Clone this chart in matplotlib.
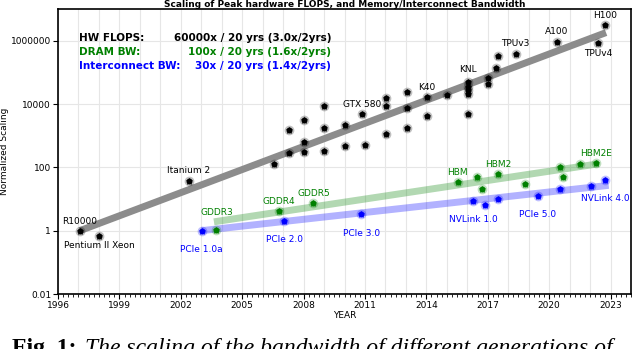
import matplotlib
matplotlib.use("Agg")
import matplotlib.pyplot as plt
from matplotlib.ticker import FixedLocator, FixedFormatter, MultipleLocator
import numpy as np

# ---------------- data ----------------
flops_year = [1997.07, 1998.01, 2002.40, 2006.57, 2007.31, 2007.31, 2008.0, 2008.0, 2008.0,
              2009.0, 2009.0, 2009.0, 2010.01, 2010.01, 2010.86, 2011.02,
              2012.03, 2012.03, 2012.03, 2013.03, 2013.03, 2013.03, 2014.01, 2014.01,
              2015.02, 2016.02, 2016.02, 2016.02, 2016.02, 2016.02, 2017.03, 2017.03,
              2017.39, 2017.49, 2018.36, 2020.36, 2022.39, 2022.75]
flops_value = [1, 0.68, 38, 129, 282, 1540, 295, 640, 3200,
               340, 1780, 8870, 480, 2170, 4700, 500,
               15000, 8900, 1170, 24000, 7450, 1740, 16200, 4270,
               18600, 51000, 34500, 27000, 21000, 5000, 64500, 41700,
               134000, 338000, 380000, 935000, 830000, 3.1e6]

dram_year = [2003.74, 2006.79, 2008.48, 2015.54, 2016.48, 2016.74, 2017.49, 2018.82,
             2020.51, 2020.67, 2021.51, 2022.27]
dram_value = [1.05, 4.3, 7.7, 34, 49, 21, 61, 30, 104, 50, 129, 135]

ic_year = [2003.02, 2007.05, 2010.82, 2016.28, 2016.87, 2017.49, 2019.44, 2020.51, 2022.04, 2022.75]
ic_value = [1.0, 2.07, 3.4, 8.5, 6.3, 10.3, 12.8, 20.4, 26, 40]

# trend lines (start/end)
flops_trend_year = [1997.07, 2022.78]
flops_trend_value = [1.0, 1.8e6]
dram_trend_year = [2003.62, 2022.43]
dram_trend_value = [1.9, 130]
ic_trend_year = [2003.02, 2022.91]
ic_trend_value = [1.0, 27]

# point labels: (name, year, value)
flops_labels = [("R10000", 1997.07, 1), ("Pentium II Xeon", 1998.01, 0.68),
                ("Itanium 2", 2002.40, 38), ("GTX 580", 2010.86, 4700),
                ("K40", 2014.01, 16200), ("KNL", 2016.02, 51000),
                ("TPUv3", 2018.36, 380000), ("A100", 2020.36, 935000),
                ("TPUv4", 2022.39, 830000), ("H100", 2022.75, 3.1e6)]
dram_labels = [("GDDR3", 2003.74, 1.05), ("GDDR4", 2006.79, 4.3), ("GDDR5", 2008.48, 7.7),
               ("HBM", 2015.54, 34), ("HBM2", 2017.49, 61), ("HBM2E", 2022.27, 135)]
ic_labels = [("PCIe 1.0a", 2003.02, 1.0), ("PCIe 2.0", 2007.05, 2.07),
             ("PCIe 3.0", 2010.82, 3.4), ("NVLink 1.0", 2016.28, 8.5),
             ("PCIe 5.0", 2019.44, 12.8), ("NVLink 4.0", 2022.75, 40)]

summary_names = ["HW FLOPS:", "DRAM BW:", "Interconnect BW:"]
summary_rates = ["60000x / 20 yrs (3.0x/2yrs)", "100x / 20 yrs (1.6x/2yrs)", "30x / 20 yrs (1.4x/2yrs)"]

x_ticks = [1996, 1999, 2002, 2005, 2008, 2011, 2014, 2017, 2020, 2023]
y_ticks = [0.01, 1, 100, 10000, 1000000]
y_ticklabels = ["0.01", "1", "100", "10000", "1000000"]

title = "Scaling of Peak hardware FLOPS, and Memory/Interconnect Bandwidth"

# ---------------- style ----------------
BLACK = "#000000"
GREEN = "#008000"
BLUE = "#0000ff"
FS = 6.5

fig = plt.figure(figsize=(6.4, 3.49), dpi=100)
ax = fig.add_axes([58/640, 55/349, 573/640, 285/349])
ax.set_yscale("log")
ax.set_xlim(1996, 2024)
ax.set_ylim(0.01, 1e7)

# grid
for yr in range(1996, 2024):
    ax.axvline(yr, color="#e6e6e6", lw=0.8, zorder=0)
for yv in y_ticks:
    ax.axhline(yv, color="#e6e6e6", lw=0.8, zorder=0)

# trend lines
ax.plot(flops_trend_year, flops_trend_value, color="#8c8c8c", lw=5, solid_capstyle="butt", zorder=2)
ax.plot(dram_trend_year, dram_trend_value, color=GREEN, alpha=0.3, lw=5, solid_capstyle="butt", zorder=2)
ax.plot(ic_trend_year, ic_trend_value, color=BLUE, alpha=0.3, lw=5, solid_capstyle="butt", zorder=2)

def pts(xs, ys, c):
    ax.plot(xs, ys, "o", ms=7, mfc=c, mec="none", alpha=0.25, zorder=3)
    ax.plot(xs, ys, "o", ms=4.3, mfc=c, mec="none", zorder=4)
    ax.plot(xs, ys, "*", ms=5, mfc=c, mec=c, mew=0.4, zorder=4)

pts(flops_year, flops_value, BLACK)
pts(dram_year, dram_value, GREEN)
pts(ic_year, ic_value, BLUE)

def lab(items, c, offsets):
    for (name, x, y), dy in zip(items, offsets):
        ax.annotate(name, (x, y), xytext=(0, dy), textcoords="offset pixels",
                    ha="center", va="center", fontsize=FS, color=c, zorder=5)

lab(flops_labels, BLACK, [9, -10, 10, 10, 10, 12.5, 10, 10, -10.5, 10])
lab(dram_labels, GREEN, [17, 9.5, 9.5, 9.5, 10, 9.5])
lab(ic_labels, BLUE, [-19, -18.5, -20, -18.5, -18.5, -18.5])

# summary text
ys = [0.898, 0.850, 0.801]
cols = [BLACK, GREEN, BLUE]
for n, r, yy, c in zip(summary_names, summary_rates, ys, cols):
    ax.text(21/573, yy, n, transform=ax.transAxes, ha="left", va="center",
            fontsize=7.5, fontweight="bold", color=c)
    ax.text(273/573, yy, r, transform=ax.transAxes, ha="right", va="center",
            fontsize=7.5, fontweight="bold", color=c)

# axes ticks
ax.xaxis.set_major_locator(FixedLocator(x_ticks))
ax.xaxis.set_major_formatter(FixedFormatter([str(t) for t in x_ticks]))
ax.xaxis.set_minor_locator(MultipleLocator(0.25))
ax.yaxis.set_major_locator(FixedLocator(y_ticks))
ax.yaxis.set_major_formatter(FixedFormatter(y_ticklabels))
ax.yaxis.set_minor_locator(FixedLocator([]))
ax.tick_params(axis="both", which="major", labelsize=FS, length=3.5, width=0.8, pad=1.5)
ax.tick_params(axis="x", which="minor", length=2, width=0.6)
for s in ax.spines.values():
    s.set_linewidth(1.2)

ax.set_xlabel("YEAR", fontsize=FS, labelpad=1)
ax.set_ylabel("Normalized Scaling", fontsize=FS, labelpad=1)
fig.text((58 + 573/2)/640, 1 - 4.5/349, title, fontsize=6.5, fontweight="bold",
         ha="center", va="center")

# caption (partially cut off at the bottom)
fig.text(12/640, -5/349, "Fig. 1:", fontsize=17, fontweight="bold",
         family="Liberation Serif", va="baseline", ha="left")
fig.text(85/640, -5/349, "The scaling of the bandwidth of different generations of",
         fontsize=17, style="italic", family="Liberation Serif", va="baseline", ha="left")

fig.savefig("out.png", dpi=100)
